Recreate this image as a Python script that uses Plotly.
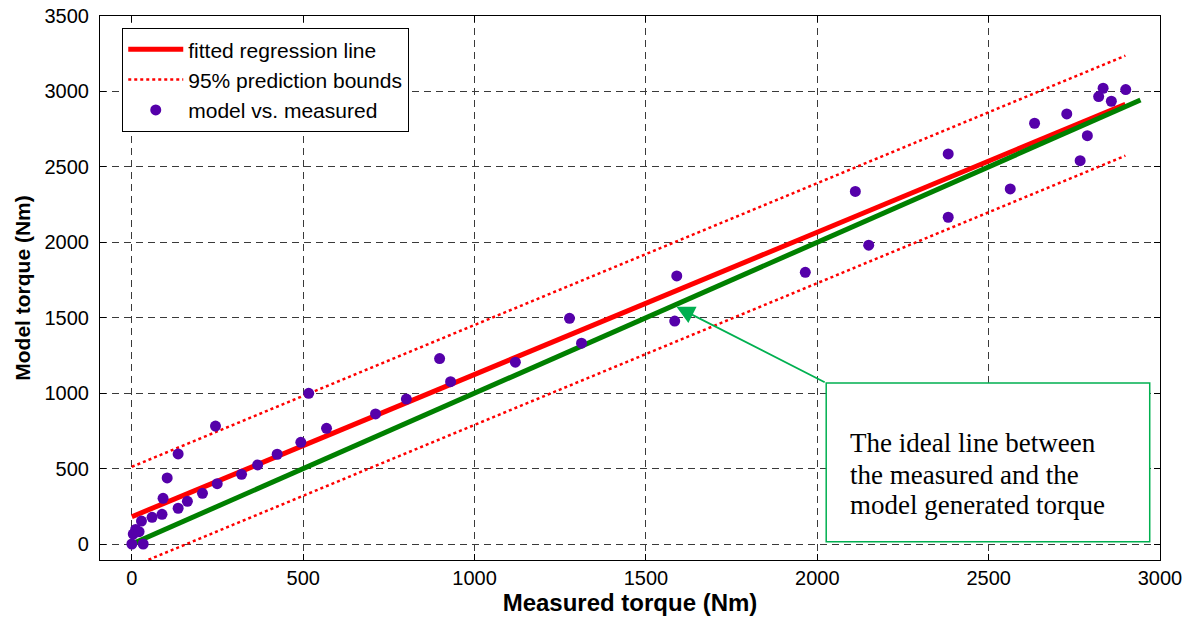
import plotly.graph_objects as go

# Data
measured = [0, 4, 11, 21, 33, 28, 59, 88, 91, 103, 135, 135, 162, 206, 244, 249, 320, 367, 424,
            493, 516, 568, 711, 801, 898, 930, 1119, 1277, 1312, 1584, 1590, 1965, 2111, 2150,
            2382, 2382, 2563, 2634, 2728, 2788, 2767, 2821, 2834, 2858, 2900]
model = [0, 66, 97, 82, 0, 152, 177, 197, 303, 438, 237, 597, 283, 336, 782, 400, 462, 524, 595,
         674, 999, 767, 862, 961, 1229, 1076, 1205, 1496, 1331, 1478, 1777, 1801, 2337, 1981,
         2586, 2166, 2354, 2789, 2851, 2707, 2541, 2966, 3021, 2935, 3012]

fit_x = [0, 2899]
fit_y = [181, 2915]
upper_y = [512, 3237]
lower_y = [-150, 2574]
ideal_x = [0, 2943]
ideal_y = [0, 2943]

x_ticks = [0, 500, 1000, 1500, 2000, 2500, 3000]
y_ticks = [0, 500, 1000, 1500, 2000, 2500, 3000, 3500]

ann_lines = ["The ideal line between", "the measured and the", "model generated torque"]

GREEN_ANN = "rgb(0,176,80)"

fig = go.Figure()
fig.add_trace(go.Scatter(x=fit_x, y=fit_y, mode="lines", name="fitted regression line",
                         line=dict(color="red", width=5)))
fig.add_trace(go.Scatter(x=fit_x, y=upper_y, mode="lines", name="95% prediction bounds",
                         line=dict(color="red", width=2.5, dash="dot")))
fig.add_trace(go.Scatter(x=fit_x, y=lower_y, mode="lines", showlegend=False,
                         line=dict(color="red", width=2.5, dash="dot")))
fig.add_trace(go.Scatter(x=ideal_x, y=ideal_y, mode="lines", showlegend=False,
                         line=dict(color="rgb(0,128,0)", width=5)))
fig.add_trace(go.Scatter(x=measured, y=model, mode="markers", name="model vs. measured",
                         marker=dict(color="rgb(85,0,170)", size=11)))

# Annotation box and text
fig.add_shape(type="rect", x0=2026, x1=2970, y0=15, y1=1067, xref="x", yref="y",
              line=dict(color=GREEN_ANN, width=1.5), fillcolor="white", layer="above")
for txt, yy in zip(ann_lines, [670, 457, 259]):
    fig.add_annotation(x=2089, y=yy, xref="x", yref="y", text=txt, showarrow=False,
                       xanchor="left", yanchor="middle",
                       font=dict(family="Liberation Serif", size=27, color="black"))
fig.add_annotation(x=1589, y=1573, ax=2026, ay=1067, xref="x", yref="y", axref="x", ayref="y",
                   text="", showarrow=True, arrowhead=2, arrowsize=2.0, arrowwidth=1.8,
                   arrowcolor=GREEN_ANN)

axis_common = dict(showline=True, linecolor="black", linewidth=1.2, mirror="allticks",
                   ticks="inside", ticklen=6, tickcolor="black",
                   showgrid=True, gridcolor="#3a3a3a", gridwidth=1, griddash="7px,5px",
                   zeroline=False)

fig.update_xaxes(range=[-93, 3000], tickvals=x_ticks, **axis_common,
                 tickfont=dict(family="Arial", size=20, color="black"),
                 title=dict(text="<b>Measured torque (Nm)</b>", standoff=6,
                            font=dict(family="Arial", size=24, color="black")))
fig.update_yaxes(range=[-106, 3500], tickvals=y_ticks, **axis_common,
                 tickfont=dict(family="Arial", size=20, color="black"),
                 ticklabelstandoff=6,
                 title=dict(text="<b>Model torque (Nm)</b>", standoff=8,
                            font=dict(family="Arial", size=21, color="black")))

fig.update_layout(
    width=1195, height=619,
    margin=dict(l=100, r=35, t=16, b=59, autoexpand=False),
    plot_bgcolor="white", paper_bgcolor="white",
    legend=dict(x=0.0208, y=0.978, xanchor="left", yanchor="top",
                bgcolor="white", bordercolor="black", borderwidth=1.2,
                font=dict(family="Arial", size=21, color="black"),
                itemwidth=55),
)

fig.write_html("out.html")
